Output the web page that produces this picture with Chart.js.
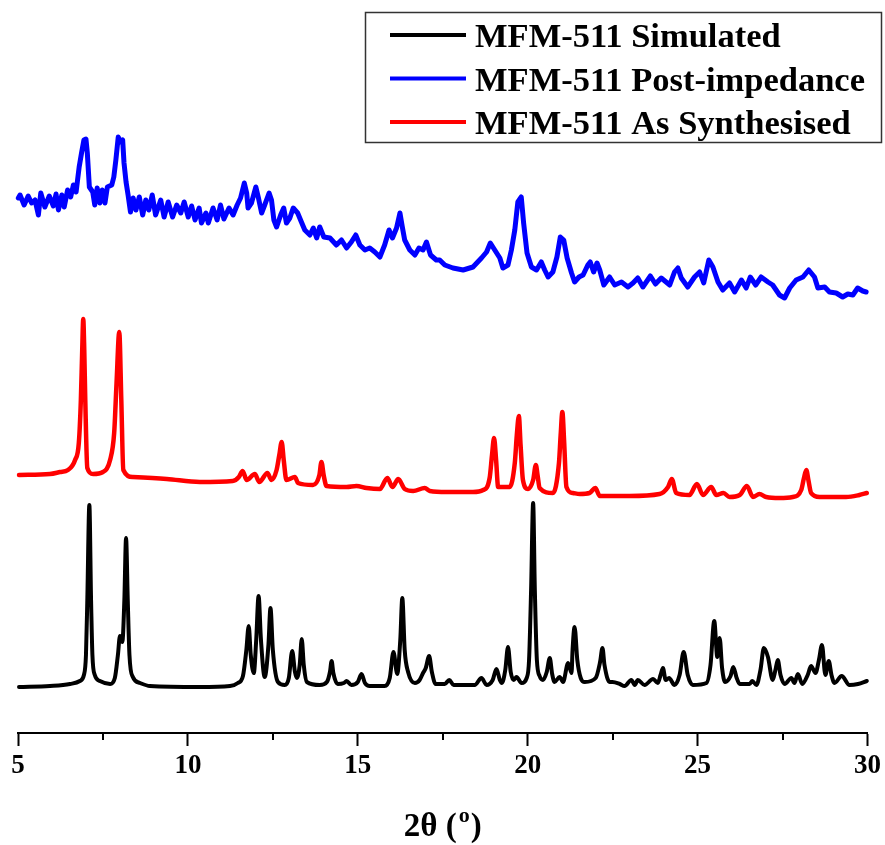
<!DOCTYPE html>
<html><head><meta charset="utf-8">
<script src="https://cdn.jsdelivr.net/npm/chart.js@4.4.1/dist/chart.umd.min.js"></script>
<style>html,body{margin:0;padding:0;background:#fff;}#wrap{width:885px;height:845px;}</style>
</head><body><div id="wrap"><canvas id="c" width="885" height="845"></canvas></div>
<script>
// ---- text / categories ----
const seriesLabels = ['MFM-511 Simulated', 'MFM-511 Post-impedance', 'MFM-511 As Synthesised'];
const seriesColors = ['#000000', '#0000ff', '#ff0000'];
const xTicks = [5, 10, 15, 20, 25, 30];
const xMinorTicks = [7.5, 12.5, 17.5, 22.5, 27.5];
const axisTitleParts = ['2θ (', 'o', ')'];

// ---- MFM-511 Simulated (2θ, intensity a.u., stacked offset) ----
const simX = [5.03,5.94,6.53,6.82,6.94,7.00,7.04,7.10,7.15,7.19,
  7.26,7.41,7.71,7.85,7.94,8.00,8.07,8.13,8.18,8.23,
  8.28,8.38,8.59,8.88,10.35,11.24,11.47,11.62,11.72,11.79,
  11.85,11.94,12.01,12.08,12.15,12.26,12.37,12.43,12.50,12.65,
  12.85,12.97,13.07,13.15,13.21,13.29,13.35,13.41,13.50,13.88,
  14.09,14.18,14.23,14.28,14.41,14.59,14.67,14.81,15.00,15.11,
  15.21,15.35,15.79,15.94,16.05,16.16,16.25,16.31,16.38,16.48,
  16.68,16.82,16.92,17.00,17.10,17.18,17.29,17.56,17.69,17.82,
  18.44,18.64,18.79,18.97,19.08,19.18,19.24,19.34,19.42,19.50,
  19.59,19.67,19.82,19.97,20.04,20.10,20.16,20.21,20.27,20.35,
  20.45,20.56,20.65,20.72,20.79,20.94,21.04,21.19,21.29,21.32,
  21.38,21.46,21.56,21.68,22.00,22.13,22.20,22.26,22.41,22.50,
  22.71,22.85,23.05,23.15,23.24,23.44,23.69,23.83,23.91,23.98,
  24.06,24.16,24.32,24.47,24.59,24.71,24.86,25.26,25.38,25.49,
  25.58,25.65,25.72,25.81,25.97,26.05,26.15,26.24,26.53,26.61,
  26.73,26.85,26.95,27.07,27.21,27.29,27.36,27.44,27.56,27.76,
  27.85,27.95,28.08,28.24,28.34,28.47,28.57,28.66,28.76,28.86,
  28.94,29.03,29.24,29.47,29.72,29.98];
const simY = [46,47,49,52,58,78,133,228,133,78,
  58,52,49,55,78,97,91,133,195,133,
  78,56,50,47,46,47,50,57,83,107,
  78,60,93,137,93,56,88,125,83,51,
  48,55,82,61,55,68,94,68,51,48,
  51,61,72,60,49,50,52,48,51,59,
  50,47,47,55,81,59,93,135,83,61,
  50,53,60,65,77,61,49,49,53,48,
  48,55,48,53,64,53,50,63,86,61,
  53,56,50,55,73,143,230,143,73,57,
  53,61,75,59,51,56,51,70,60,83,
  106,73,55,51,55,71,85,68,51,51,
  49,47,53,48,53,48,54,50,58,65,
  53,55,48,58,81,58,48,50,68,112,
  76,95,65,51,57,66,55,49,49,52,
  48,63,85,76,53,63,73,58,49,55,
  50,59,49,58,67,60,73,88,58,72,
  58,50,57,48,49,52];

// ---- MFM-511 As Synthesised ----
const asX = [5.03,5.94,6.24,6.47,6.68,6.79,6.85,6.89,6.92,6.95,
  6.98,7.04,7.21,7.50,7.71,7.83,7.90,7.98,8.04,8.10,
  8.38,9.38,10.35,11.32,11.50,11.61,11.73,11.97,12.10,12.34,
  12.46,12.61,12.69,12.76,12.82,12.90,13.15,13.24,13.68,13.87,
  13.93,14.00,14.08,14.67,14.96,15.26,15.65,15.87,16.02,16.19,
  16.38,16.63,16.97,17.12,17.61,18.39,18.69,18.88,18.95,19.01,
  19.07,19.13,19.47,19.62,19.68,19.74,19.79,19.86,20.01,20.16,
  20.24,20.29,20.35,20.74,20.92,20.97,21.02,21.07,21.14,21.33,
  21.53,21.82,21.99,22.12,23.00,23.88,24.13,24.24,24.37,24.76,
  24.98,25.16,25.40,25.55,25.76,25.94,26.24,26.45,26.63,26.82,
  27.02,27.41,27.80,28.05,28.13,28.20,28.26,28.34,28.59,28.98,
  29.37,29.76,29.98];
const asY = [258,259,261,263,273,290,333,383,414,383,
  333,265,259,261,273,300,350,401,333,263,
  256,254,251,252,256,262,253,259,251,260,
  253,263,278,291,273,253,256,250,248,258,
  271,257,247,246,247,245,244,255,246,254,
  244,242,245,242,241,241,243,255,278,295,
  273,246,246,270,298,317,288,253,244,253,
  268,258,245,240,270,298,321,293,246,240,
  239,240,245,237,237,239,246,254,240,238,
  249,238,246,238,240,236,238,247,236,239,
  236,235,236,243,255,263,253,240,236,236,
  236,238,240];

// ---- MFM-511 Post-impedance ----
const postX = [5.01,5.06,5.18,5.30,5.40,5.50,5.60,5.67,5.79,5.92,
  6.04,6.12,6.19,6.29,6.36,6.46,6.55,6.63,6.71,6.76,
  6.80,6.87,6.94,7.00,7.04,7.10,7.20,7.26,7.33,7.41,
  7.48,7.56,7.63,7.76,7.82,7.88,7.95,8.02,8.08,8.12,
  8.18,8.24,8.31,8.39,8.47,8.57,8.67,8.76,8.85,8.95,
  9.05,9.20,9.30,9.42,9.55,9.67,9.79,9.89,10.01,10.11,
  10.21,10.33,10.40,10.53,10.60,10.74,10.86,10.96,11.06,11.21,
  11.33,11.45,11.55,11.66,11.73,11.77,11.87,12.00,12.07,12.17,
  12.26,12.39,12.46,12.53,12.61,12.73,12.82,12.90,13.00,13.10,
  13.23,13.34,13.44,13.59,13.69,13.79,13.88,14.00,14.18,14.37,
  14.52,14.67,14.81,14.94,15.06,15.21,15.35,15.50,15.65,15.79,
  15.92,16.02,16.14,16.24,16.31,16.38,16.53,16.68,16.80,16.92,
  17.02,17.14,17.31,17.41,17.56,17.80,18.10,18.39,18.64,18.79,
  18.90,19.03,19.18,19.27,19.42,19.52,19.62,19.71,19.81,19.88,
  19.98,20.11,20.26,20.40,20.50,20.60,20.74,20.86,20.96,21.06,
  21.16,21.29,21.38,21.51,21.63,21.77,21.84,21.94,22.04,22.12,
  22.24,22.41,22.56,22.76,22.95,23.10,23.24,23.39,23.61,23.76,
  23.93,24.18,24.32,24.42,24.52,24.71,24.91,25.06,25.18,25.33,
  25.45,25.60,25.74,25.94,26.09,26.29,26.43,26.55,26.71,26.87,
  27.07,27.21,27.41,27.56,27.71,27.90,28.10,28.27,28.44,28.54,
  28.74,28.88,29.08,29.27,29.42,29.57,29.71,29.86,29.96];
const postY = [535,538,528,537,530,533,518,540,526,537,
  527,539,523,538,526,543,536,548,541,555,
  566,580,593,594,580,546,541,528,545,530,
  543,530,546,548,556,573,596,591,593,570,
  551,538,521,535,523,536,518,533,523,538,
  518,533,516,531,516,528,520,531,516,527,
  513,525,510,520,510,525,513,528,514,525,
  518,528,535,550,540,525,530,546,536,520,
  528,540,533,513,506,518,525,510,515,525,
  520,511,503,498,505,495,506,496,495,488,
  493,485,491,498,488,483,485,481,476,488,
  503,495,505,520,506,493,483,478,485,483,
  491,478,473,473,468,465,463,466,475,481,
  490,483,475,465,468,483,503,531,536,510,
  480,466,463,471,463,456,461,476,496,493,
  475,460,451,456,458,468,471,461,470,463,
  448,456,448,451,446,450,455,446,457,449,
  455,448,461,465,455,446,456,461,450,473,
  466,451,443,450,441,453,445,456,448,456,
  451,448,438,435,445,453,456,463,456,445,
  446,441,440,436,439,438,445,442,441];

function pts(xs, ys) { return xs.map((x, i) => ({ x: x, y: ys[i] })); }

const serif = '"Liberation Serif", "Times New Roman", serif';

const decor = {
  id: 'decor',
  afterDraw(chart) {
    const ctx = chart.ctx;
    const xs = chart.scales.x;
    const bottom = chart.chartArea.bottom;
    ctx.save();
    // minor ticks
    ctx.strokeStyle = '#000';
    ctx.lineWidth = 2;
    xMinorTicks.forEach(v => {
      const px = Math.round(xs.getPixelForValue(v));
      ctx.beginPath();
      ctx.moveTo(px, bottom);
      ctx.lineTo(px, bottom + 7);
      ctx.stroke();
    });
    // axis title with superscript
    ctx.fillStyle = '#000';
    ctx.textBaseline = 'alphabetic';
    ctx.textAlign = 'left';
    const big = 'bold 33px ' + serif, small = 'bold 22px ' + serif;
    ctx.font = big; const w1 = ctx.measureText(axisTitleParts[0]).width;
    const w3 = ctx.measureText(axisTitleParts[2]).width;
    ctx.font = small; const w2 = ctx.measureText(axisTitleParts[1]).width + 3;
    const cx = (chart.chartArea.left + chart.chartArea.right) / 2;
    let sx = cx - (w1 + w2 + w3) / 2;
    const base = 836;
    ctx.font = big; ctx.fillText(axisTitleParts[0], sx, base);
    ctx.font = small; ctx.fillText(axisTitleParts[1], sx + w1 + 2, base - 14);
    ctx.font = big; ctx.fillText(axisTitleParts[2], sx + w1 + w2, base);
    // legend box
    ctx.strokeStyle = '#333';
    ctx.lineWidth = 1.5;
    ctx.strokeRect(365.5, 12.5, 516, 130);
    chart.data.datasets.forEach((ds, i) => {
      const y = 35 + i * 43.5;
      ctx.strokeStyle = ds.borderColor;
      ctx.lineWidth = 4;
      ctx.beginPath();
      ctx.moveTo(390, y);
      ctx.lineTo(466, y);
      ctx.stroke();
      ctx.fillStyle = '#000';
      ctx.font = 'bold 34.5px ' + serif;
      ctx.fillText(ds.label, 475, y + 12);
    });
    ctx.restore();
  }
};

new Chart(document.getElementById('c'), {
  type: 'line',
  data: {
    datasets: [
      { label: seriesLabels[0], data: pts(simX, simY), borderColor: seriesColors[0], borderWidth: 4, cubicInterpolationMode: 'monotone' },
      { label: seriesLabels[1], data: pts(postX, postY), borderColor: seriesColors[1], borderWidth: 5 },
      { label: seriesLabels[2], data: pts(asX, asY), borderColor: seriesColors[2], borderWidth: 4.5, cubicInterpolationMode: 'monotone' }
    ]
  },
  options: {
    responsive: false,
    animation: false,
    devicePixelRatio: 1,
    events: [],
    layout: { padding: { left: 18, right: 17, top: 0, bottom: 0 } },
    elements: {
      point: { radius: 0 },
      line: { borderWidth: 4, tension: 0, borderJoinStyle: 'round', borderCapStyle: 'round', fill: false }
    },
    datasets: { line: { clip: false } },
    plugins: { legend: { display: false }, tooltip: { enabled: false }, title: { display: false } },
    scales: {
      x: {
        type: 'linear',
        min: 5, max: 30,
        afterBuildTicks(scale) { scale.ticks = xTicks.map(v => ({ value: v })); },
        afterFit(scale) { scale.height = 112; },
        border: { display: true, color: '#000', width: 2 },
        grid: { display: true, drawOnChartArea: false, drawTicks: true, tickLength: 13, tickWidth: 2, tickColor: '#000' },
        ticks: { color: '#000', padding: 4, maxRotation: 0, autoSkip: false,
          font: { family: serif, size: 27, weight: 'bold' } }
      },
      y: { display: false, min: 0, max: 733 }
    }
  },
  plugins: [decor]
});
</script>
</body></html>
